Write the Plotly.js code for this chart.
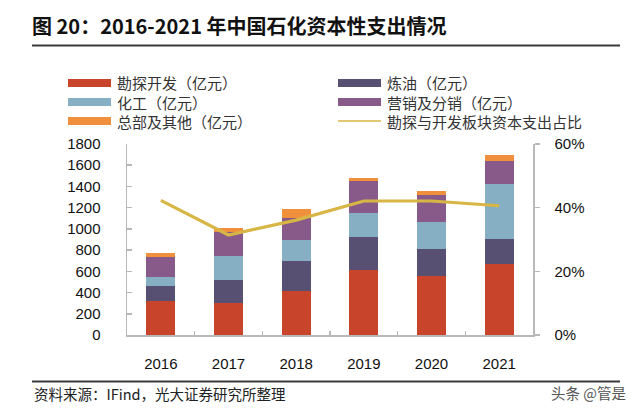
<!DOCTYPE html>
<html>
<head>
<meta charset="utf-8">
<script src="https://cdn.plot.ly/plotly-3.0.1.min.js"></script>
<style>html,body{margin:0;padding:0;background:#fff;}#chart{width:640px;height:411px;}</style>
</head>
<body>
<div id="chart"></div>
<script>
// ---- data ----
const years = ['2016','2017','2018','2019','2020','2021'];
const exploration = [318, 304, 415, 616, 559, 672];   // 勘探开发
const refining    = [144, 211, 279, 305, 252, 230];   // 炼油
const chemicals   = [85, 232, 198, 229, 254, 518];    // 化工
const marketing   = [185, 221, 211, 299, 258, 217];   // 营销及分销
const hqOther     = [38, 38, 87, 28, 34, 57];         // 总部及其他
const explShare   = [0.423, 0.314, 0.361, 0.421, 0.421, 0.406]; // 勘探与开发板块资本支出占比

const seriesNames = ['勘探开发（亿元）','炼油（亿元）','化工（亿元）','营销及分销（亿元）','总部及其他（亿元）','勘探与开发板块资本支出占比'];
const colors = ['#C8442A','#575072','#86AFC3','#875A8A','#F0903C','#D8B646'];
const leftTicks = [0,200,400,600,800,1000,1200,1400,1600,1800];
const rightTicks = [0,0.2,0.4,0.6];

// ---- geometry helpers (pixel -> paper) ----
const L = 127, R = 533, T = 144, B = 335, W = 640, H = 411;
const px = x => (x - L) / (R - L);
const py = y => (B - y) / (B - T);

const barData = [exploration, refining, chemicals, marketing, hqOther];
const traces = barData.map((vals, i) => ({
  type: 'bar', x: years, y: vals, name: seriesNames[i],
  marker: {color: colors[i], line: {width: 0}}, width: 0.43,
  showlegend: false, hoverinfo: 'skip'
}));
traces.push({
  type: 'scatter', mode: 'lines', x: years, y: explShare, yaxis: 'y2',
  name: seriesNames[5], line: {color: colors[5], width: 3.2},
  showlegend: false, hoverinfo: 'skip'
});

const cjk = '"Noto Sans CJK SC", "Noto Sans", sans-serif';
const annotations = [];
const shapes = [];

// legend (custom, 2 columns)
const legCols = [{sx0: 68, sx1: 111, tx: 115}, {sx0: 338, sx1: 381, tx: 385}];
const legRows = [83, 102, 121];
const legOrder = [[0,1],[2,3],[4,5]];
legOrder.forEach((row, r) => {
  row.forEach((si, c) => {
    const col = legCols[c], yc = legRows[r];
    if (si === 5) {
      shapes.push({type:'line', xref:'paper', yref:'paper', x0: px(col.sx0), x1: px(col.sx1), y0: py(yc), y1: py(yc), line:{color: colors[si], width: 1.5}});
    } else {
      shapes.push({type:'rect', xref:'paper', yref:'paper', x0: px(col.sx0), x1: px(col.sx1), y0: py(yc+4), y1: py(yc-4), fillcolor: colors[si], line:{width:0}});
    }
    annotations.push({xref:'paper', yref:'paper', x: px(col.tx), y: py(yc), xanchor:'left', yanchor:'middle',
      text: seriesNames[si], showarrow:false, font:{family: cjk, size: 15, color:'#333'}});
  });
});

// rules
shapes.push({type:'line', xref:'paper', yref:'paper', x0: px(32), x1: px(620), y0: py(45.5), y1: py(45.5), line:{color:'#3a3a3a', width:2}});
shapes.push({type:'line', xref:'paper', yref:'paper', x0: px(32), x1: px(620), y0: py(381.5), y1: py(381.5), line:{color:'#3a3a3a', width:2}});

// source + watermark
annotations.push({xref:'paper', yref:'paper', x: px(32), y: py(393), xanchor:'left', yanchor:'middle',
  text:'资料来源：IFind，光大证券研究所整理', showarrow:false, font:{family: cjk, size: 14.5, color:'#222'}});
annotations.push({xref:'paper', yref:'paper', x: px(628), y: py(392), xanchor:'right', yanchor:'middle',
  text:'头条 @管是', showarrow:false, font:{family: cjk, size: 14.5, color:'#555'}});

const axisColor = '#b8b8b8';
const tickFont = {family: 'Arial, "Liberation Sans", sans-serif', size: 15, color: '#111'};

const layout = {
  width: W, height: H,
  margin: {l: L, r: W - R, t: T, b: H - B, pad: 0},
  paper_bgcolor: '#fff', plot_bgcolor: '#fff',
  barmode: 'stack',
  showlegend: false,
  title: {text: '图 20：2016-2021 年中国石化资本性支出情况', x: 32 / W, xanchor: 'left', xref: 'container',
    y: 1 - 27 / H, yanchor: 'middle', yref: 'container',
    font: {family: cjk, size: 20, color: '#111', weight: 'bold'}},
  xaxis: {type: 'category', categoryarray: years, showline: true, linecolor: axisColor, linewidth: 1.5,
    ticks: 'inside', tickson: 'boundaries', ticklen: 4, tickcolor: axisColor, tickwidth: 1.5,
    tickfont: tickFont, showgrid: false, zeroline: false, ticklabelstandoff: 14},
  yaxis: {range: [0, 1800], tickvals: leftTicks, ticktext: leftTicks.map(String), showline: true, linecolor: axisColor, linewidth: 1.5,
    ticks: 'inside', ticklen: 5, tickcolor: axisColor, tickwidth: 1.5, tickfont: tickFont,
    showgrid: false, zeroline: false, ticklabelstandoff: 22},
  yaxis2: {range: [0, 0.6], overlaying: 'y', side: 'right', tickvals: rightTicks, ticktext: rightTicks.map(v => Math.round(v*100) + '%'),
    showline: true, linecolor: axisColor, linewidth: 1.5, ticks: 'outside', ticklen: 5, tickcolor: axisColor, tickwidth: 1.5,
    tickfont: tickFont, showgrid: false, zeroline: false, ticklabelstandoff: 12},
  annotations: annotations,
  shapes: shapes
};

Plotly.newPlot('chart', traces, layout, {displayModeBar: false, staticPlot: true});
</script>
</body>
</html>
